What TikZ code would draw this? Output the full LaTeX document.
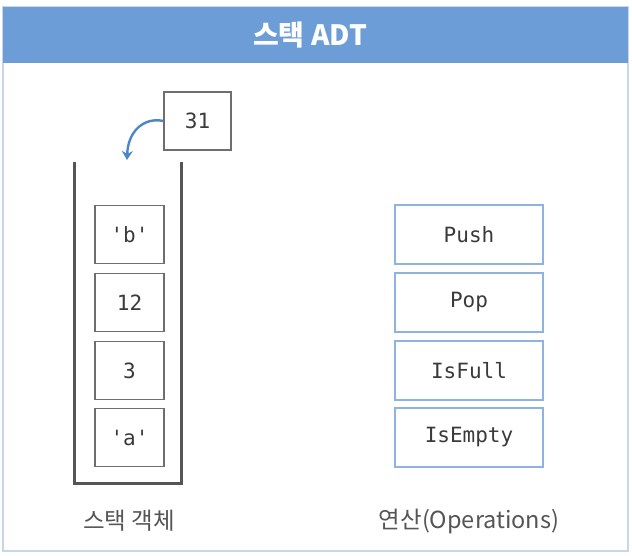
\documentclass[tikz,border=0pt]{standalone}
\usepackage{fontspec}
\usetikzlibrary{arrows.meta}
\setmainfont{Noto Sans CJK KR}
\newfontfamily\krfont{Noto Sans CJK KR}
\newfontfamily\monofont{DejaVu Sans Mono}
\begin{document}
\begin{tikzpicture}[x=1pt,y=-1pt,
  stackitem/.style={draw=itemgray,line width=1.4pt,minimum width=69pt,minimum height=58pt,inner sep=0pt,font=\monofont\fontsize{21}{24}\selectfont,text=txt},
  opbox/.style={draw=opblue,line width=1.2pt,minimum width=148pt,minimum height=59pt,inner sep=0pt,font=\monofont\fontsize{21}{24}\selectfont,text=txt},
  caption/.style={font=\krfont\fontsize{23.5}{26}\selectfont,text=captxt,inner sep=0pt},
  wall/.style={draw=wallgray,line width=3pt}]
\definecolor{hblue}{HTML}{6C9DD6}
\definecolor{frame}{HTML}{C9D6E6}
\definecolor{itemgray}{HTML}{6E6E6E}
\definecolor{wallgray}{HTML}{555555}
\definecolor{opblue}{HTML}{8DB3E2}
\definecolor{txt}{HTML}{3A3A3A}
\definecolor{captxt}{HTML}{555555}
\definecolor{arrblue}{HTML}{4A86C8}
\useasboundingbox (0,0) rectangle (632,556);
\fill[white] (0,0) rectangle (632,556);
\draw[frame,line width=1.5pt] (3,7) rectangle (628,551);
\fill[hblue] (3,7) rectangle (628,63);
\node[font=\krfont\bfseries\fontsize{28}{32}\selectfont,text=white] (title) at (310,35) {스택 ADT};
% stack container
\coordinate (wl) at (74,162);
\coordinate (wr) at (181,162);
\draw[wall,line join=miter] (wl) -- (74,483) -- (181,483) -- (wr);
\node[stackitem] (b) at (129.5,234.5) {'b'};
\node[stackitem] (n12) at (129.5,302.5) {12};
\node[stackitem] (n3) at (129.5,370.5) {3};
\node[stackitem] (a) at (129.5,437.5) {'a'};
\node[stackitem,minimum width=67pt] (n31) at (197.5,121) {31};
\coordinate (drop) at (127,160);
\draw[arrblue,line width=2.4pt,-{Stealth[length=9pt,width=11pt]}] (n31.west) .. controls (145,117) and (128,130) .. (drop);
\node[caption] (cap1) at (129,521) {스택 객체};
% operations
\node[opbox] (push) at (469,234.5) {Push};
\node[opbox] (pop) at (469,302.5) {Pop};
\node[opbox] (full) at (469,370.5) {IsFull};
\node[opbox] (empty) at (469,437.5) {IsEmpty};
\node[caption] (cap2) at (469,521) {연산(Operations)};
\end{tikzpicture}
\end{document}
